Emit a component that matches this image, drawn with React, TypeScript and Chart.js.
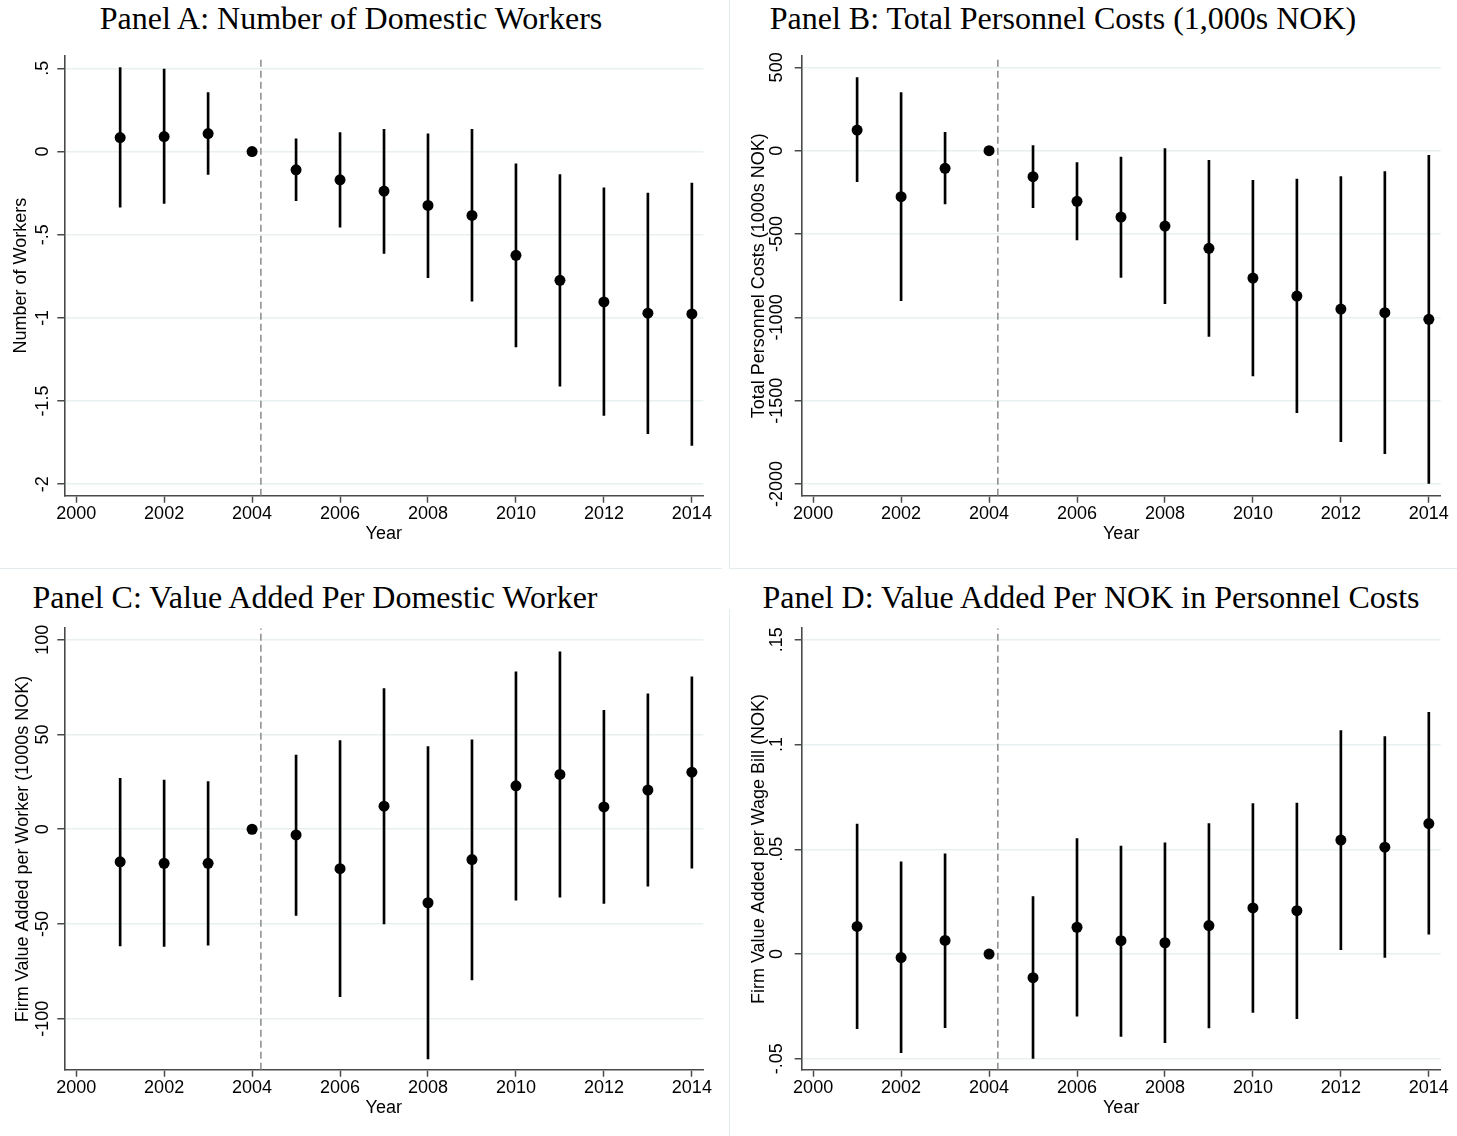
import React, { useEffect, useRef } from "react";
import { Chart, registerables } from "chart.js";

Chart.register(...registerables);

// ---------- data ----------
const years = [2001, 2002, 2003, 2004, 2005, 2006, 2007, 2008, 2009, 2010, 2011, 2012, 2013, 2014];
const xTicks = [2000, 2002, 2004, 2006, 2008, 2010, 2012, 2014];
const xTickLabels = ["2000", "2002", "2004", "2006", "2008", "2010", "2012", "2014"];
const reformLineX = 2004.2;

// Panel A: Number of Domestic Workers
const aEst = [0.084, 0.09, 0.108, 0, -0.11, -0.17, -0.238, -0.324, -0.384, -0.624, -0.774, -0.904, -0.972, -0.976];
const aLo = [-0.335, -0.312, -0.138, null, -0.296, -0.455, -0.612, -0.758, -0.9, -1.174, -1.41, -1.586, -1.696, -1.766];
const aHi = [0.505, 0.495, 0.355, null, 0.076, 0.114, 0.134, 0.106, 0.134, -0.074, -0.138, -0.218, -0.25, -0.19];
const aTicks = [-2, -1.5, -1, -0.5, 0, 0.5];
const aTickLabels = ["-2", "-1.5", "-1", "-.5", "0", ".5"];

// Panel B: Total Personnel Costs
const bEst = [124, -276, -106, 0, -156, -304, -398, -452, -586, -764, -872, -950, -972, -1012];
const bLo = [-186, -900, -320, null, -342, -536, -760, -918, -1114, -1352, -1572, -1746, -1818, -1996];
const bHi = [438, 348, 110, null, 30, -72, -38, 12, -58, -178, -170, -156, -126, -28];
const bTicks = [-2000, -1500, -1000, -500, 0, 500];
const bTickLabels = ["-2000", "-1500", "-1000", "-500", "0", "500"];

// Panel C: Value Added Per Domestic Worker
const cEst = [-17.2, -18.0, -18.0, 0, -3.0, -20.8, 12.2, -38.8, -16.0, 22.9, 28.9, 11.8, 20.7, 30.1];
const cLo = [-61.6, -61.9, -61.2, null, -45.5, -88.4, -49.9, -121.2, -79.5, -37.4, -35.9, -39.2, -30.1, -20.5];
const cHi = [26.9, 25.9, 25.2, null, 39.2, 46.8, 74.2, 43.6, 47.2, 83.1, 93.6, 62.8, 71.5, 80.4];
const cTicks = [-100, -50, 0, 50, 100];
const cTickLabels = ["-100", "-50", "0", "50", "100"];

// Panel D: Value Added Per NOK in Personnel Costs
const dEst = [0.0132, -0.0017, 0.0065, 0, -0.0113, 0.0128, 0.0064, 0.0054, 0.0136, 0.022, 0.0207, 0.0544, 0.051, 0.0623];
const dLo = [-0.0356, -0.0471, -0.0351, null, -0.0498, -0.0296, -0.0393, -0.0423, -0.0352, -0.0279, -0.0308, 0.0021, -0.0016, 0.0095];
const dHi = [0.062, 0.044, 0.0479, null, 0.0274, 0.0551, 0.0516, 0.0531, 0.0623, 0.0718, 0.0721, 0.1067, 0.1038, 0.1154];
const dTicks = [-0.05, 0, 0.05, 0.1, 0.15];
const dTickLabels = ["-.05", "0", ".05", ".1", ".15"];

// ---------- styling ----------
const SANS = "'Liberation Sans', Arial, sans-serif";
const SERIF = "'Liberation Serif', 'Times New Roman', serif";
const AXIS_COLOR = "#4a4a4a";
const GRID_COLOR = "#e8f0f2";
const SEP_COLOR = "#e4ecef";
const TICK_LEN = 7;

type PanelSpec = {
  left: number;
  top: number;
  w: number;
  h: number;
  pad: { top: number; right: number; bottom: number; left: number };
  yAxisWidth: number;
  xAxisHeight: number;
  yTitlePad: number;
  yLabelDist: number;
  xMin: number;
  xMax: number;
  yMin: number;
  yMax: number;
  yTitle: string;
  est: number[];
  lo: (number | null)[];
  hi: (number | null)[];
  yTicks: number[];
  yTickLabels: string[];
};

const panels: PanelSpec[] = [
  {
    left: 0, top: 40, w: 728, h: 527,
    pad: { top: 15.7, right: 24.7, bottom: 11.3, left: 0 },
    yAxisWidth: 64.3, xAxisHeight: 60, yTitlePad: 9.9, yLabelDist: 21.3,
    xMin: 1999.73, xMax: 2014.26, yMin: -2.069, yMax: 0.576,
    yTitle: "Number of Workers", est: aEst, lo: aLo, hi: aHi, yTicks: aTicks, yTickLabels: aTickLabels,
  },
  {
    left: 729, top: 40, w: 728, h: 527,
    pad: { top: 15.7, right: 16.3, bottom: 11.3, left: 0 },
    yAxisWidth: 72.7, xAxisHeight: 60, yTitlePad: 19.5, yLabelDist: 24.7,
    xMin: 1999.74, xMax: 2014.27, yMin: -2070, yMax: 570,
    yTitle: "Total Personnel Costs (1000s NOK)", est: bEst, lo: bLo, hi: bHi, yTicks: bTicks, yTickLabels: bTickLabels,
  },
  {
    left: 0, top: 615, w: 728, h: 521,
    pad: { top: 13.2, right: 24.7, bottom: 6.3, left: 0 },
    yAxisWidth: 64.3, xAxisHeight: 60, yTitlePad: 11.9, yLabelDist: 21.6,
    xMin: 1999.73, xMax: 2014.26, yMin: -126.9, yMax: 106.1,
    yTitle: "Firm Value Added per Worker (1000s NOK)", est: cEst, lo: cLo, hi: cHi, yTicks: cTicks, yTickLabels: cTickLabels,
  },
  {
    left: 729, top: 615, w: 728, h: 521,
    pad: { top: 13.2, right: 16.3, bottom: 6.3, left: 0 },
    yAxisWidth: 72.7, xAxisHeight: 60, yTitlePad: 19.5, yLabelDist: 25,
    xMin: 1999.74, xMax: 2014.27, yMin: -0.0552, yMax: 0.1555,
    yTitle: "Firm Value Added per Wage Bill (NOK)", est: dEst, lo: dLo, hi: dHi, yTicks: dTicks, yTickLabels: dTickLabels,
  },
];

const panelTitles = [
  { text: "Panel A: Number of Domestic Workers", cx: 351, baseline: 28.5 },
  { text: "Panel B: Total Personnel Costs (1,000s NOK)", cx: 1063, baseline: 28.5 },
  { text: "Panel C: Value Added Per Domestic Worker", cx: 315, baseline: 607.5 },
  { text: "Panel D: Value Added Per NOK in Personnel Costs", cx: 1091, baseline: 607.5 },
];

function labelFor(value: number, ticks: number[], labels: string[]) {
  for (let i = 0; i < ticks.length; i++) {
    if (Math.abs(ticks[i] - value) < 1e-9 * Math.max(1, Math.abs(value)) + 1e-12) return labels[i];
  }
  return "";
}

function PanelChart({ spec }: { spec: PanelSpec }) {
  const ref = useRef<HTMLCanvasElement | null>(null);

  useEffect(() => {
    const canvas = ref.current;
    if (!canvas) return;
    const ctx = canvas.getContext("2d");
    let widest = 30;
    if (ctx) {
      ctx.font = `18px ${SANS}`;
      widest = Math.max(...spec.yTickLabels.map((t) => ctx.measureText(t).width));
    }
    const yTickPad = spec.yLabelDist - TICK_LEN - widest / 2;

    const points = years.map((x, i) => ({ x, y: spec.est[i] }));
    const bars = years
      .map((x, i) => ({ x, lo: spec.lo[i], hi: spec.hi[i] }))
      .filter((d) => d.lo !== null && d.hi !== null)
      .map((d) => ({ x: d.x, y: [d.lo as number, d.hi as number] }));

    const chart = new Chart(canvas, {
      type: "scatter",
      data: {
        datasets: [
          {
            type: "scatter",
            data: points,
            pointRadius: 5.5,
            pointHoverRadius: 5.5,
            pointBackgroundColor: "#000000",
            pointBorderWidth: 0,
            pointBorderColor: "#000000",
          } as any,
          {
            type: "bar",
            data: bars,
            backgroundColor: "#000000",
            borderWidth: 0,
            barThickness: 2,
            grouped: false,
          } as any,
          {
            type: "line",
            data: [
              { x: reformLineX, y: spec.yMin },
              { x: reformLineX, y: spec.yMax },
            ],
            borderColor: "#8a8a8a",
            borderWidth: 1.5,
            borderDash: [7, 4],
            pointRadius: 0,
            fill: false,
          } as any,
        ],
      },
      options: {
        responsive: false,
        animation: false,
        devicePixelRatio: 1,
        events: [],
        layout: { padding: spec.pad },
        plugins: {
          legend: { display: false },
          tooltip: { enabled: false },
          title: { display: false },
        },
        scales: {
          x: {
            type: "linear",
            min: spec.xMin,
            max: spec.xMax,
            offset: false,
            afterBuildTicks: (scale: any) => {
              scale.ticks = xTicks.map((v) => ({ value: v }));
            },
            afterFit: (scale: any) => {
              scale.height = spec.xAxisHeight;
            },
            ticks: {
              autoSkip: false,
              maxRotation: 0,
              minRotation: 0,
              padding: 1,
              color: "#000000",
              font: { family: SANS, size: 18 },
              callback: (v: any) => labelFor(Number(v), xTicks, xTickLabels),
            },
            grid: {
              offset: false,
              drawOnChartArea: false,
              drawTicks: true,
              tickLength: TICK_LEN,
              tickColor: AXIS_COLOR,
              tickWidth: 1.5,
            },
            border: { display: true, color: AXIS_COLOR, width: 1.6 },
            title: {
              display: true,
              text: "Year",
              color: "#000000",
              font: { family: SANS, size: 18 },
              padding: { top: 0, bottom: 11.2 },
            },
          } as any,
          y: {
            type: "linear",
            min: spec.yMin,
            max: spec.yMax,
            afterBuildTicks: (scale: any) => {
              scale.ticks = spec.yTicks.map((v) => ({ value: v }));
            },
            afterFit: (scale: any) => {
              scale.width = spec.yAxisWidth;
            },
            ticks: {
              autoSkip: false,
              minRotation: 90,
              maxRotation: 90,
              crossAlign: "center",
              padding: yTickPad,
              color: "#000000",
              font: { family: SANS, size: 18 },
              callback: (v: any) => labelFor(Number(v), spec.yTicks, spec.yTickLabels),
            },
            grid: {
              drawOnChartArea: true,
              drawTicks: true,
              color: GRID_COLOR,
              lineWidth: 1.5,
              tickLength: TICK_LEN,
              tickColor: AXIS_COLOR,
              tickWidth: 1.5,
            },
            border: { display: true, color: AXIS_COLOR, width: 1.6 },
            title: {
              display: true,
              text: spec.yTitle,
              color: "#000000",
              font: { family: SANS, size: 18 },
              padding: { top: spec.yTitlePad, bottom: 0 },
            },
          } as any,
        },
      } as any,
    });

    return () => chart.destroy();
  }, [spec]);

  return (
    <canvas
      ref={ref}
      width={spec.w}
      height={spec.h}
      style={{ position: "absolute", left: spec.left, top: spec.top, width: spec.w, height: spec.h }}
    />
  );
}

export default function App() {
  const titleSize = 32;
  return (
    <div
      style={{
        position: "absolute",
        left: 0,
        top: 0,
        width: 1457,
        height: 1136,
        background: "#ffffff",
        overflow: "hidden",
      }}
    >
      {/* faint graph-region separators */}
      <div style={{ position: "absolute", left: 729, top: 0, width: 1, height: 568, background: SEP_COLOR }} />
      <div style={{ position: "absolute", left: 0, top: 568, width: 722, height: 1, background: SEP_COLOR }} />
      <div style={{ position: "absolute", left: 729, top: 568, width: 728, height: 1, background: SEP_COLOR }} />
      <div style={{ position: "absolute", left: 729, top: 609, width: 1, height: 527, background: SEP_COLOR }} />

      {panelTitles.map((t) => (
        <div
          key={t.text}
          style={{
            position: "absolute",
            left: t.cx,
            top: t.baseline - 0.838 * titleSize,
            transform: "translateX(-50%)",
            fontFamily: SERIF,
            fontSize: titleSize,
            lineHeight: `${titleSize}px`,
            whiteSpace: "nowrap",
            color: "#000000",
          }}
        >
          {t.text}
        </div>
      ))}

      {panels.map((p, i) => (
        <PanelChart key={i} spec={p} />
      ))}
    </div>
  );
}
